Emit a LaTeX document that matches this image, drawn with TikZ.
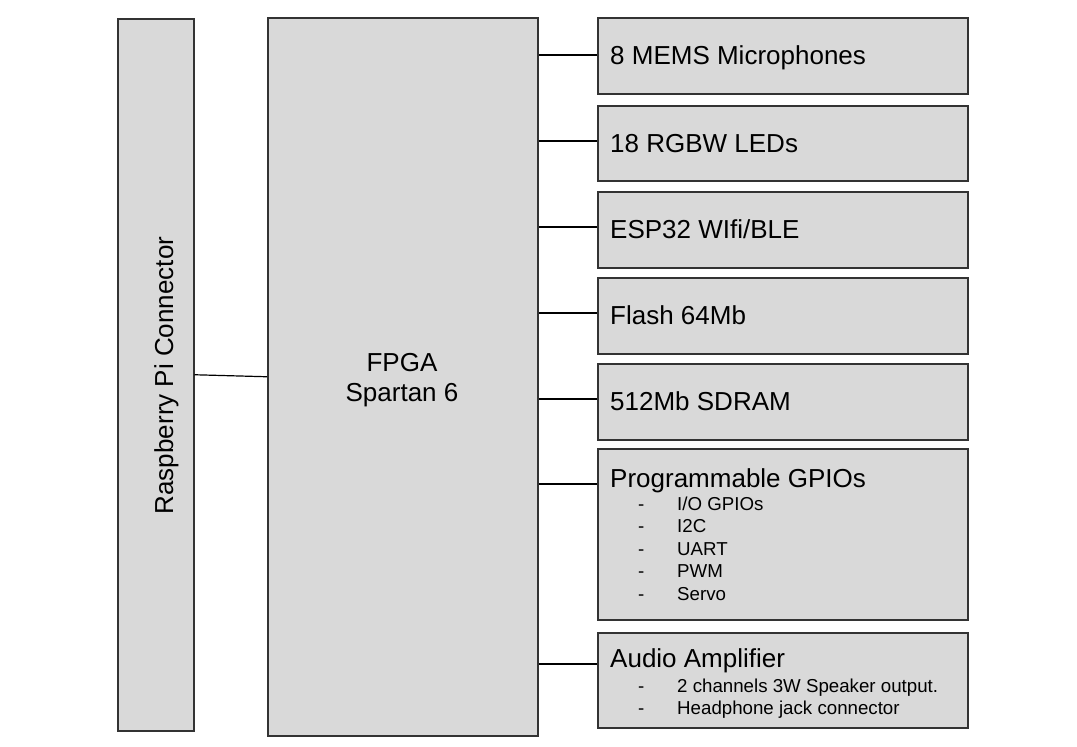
\documentclass[tikz,border=0pt]{standalone}
\usepackage{fontspec}
\setmainfont{Liberation Sans}
\definecolor{grisbloc}{HTML}{D9D9D9}

\begin{document}
\begin{tikzpicture}[x=1pt, y=-1pt]
	\tikzset{bloc/.style={draw=black!80, fill=grisbloc, line width=1.5pt, inner sep=0pt, anchor=north west},
	titre/.style={font=\fontsize{26}{30}\selectfont, inner sep=0pt},
	puce/.style={font=\fontsize{18.7}{22}\selectfont, anchor=base west, inner sep=0pt},
	lien/.style={line width=1.2pt}};
	\useasboundingbox (0,0) rectangle (1077,747);

	\node[bloc, minimum width=76pt, minimum height=712pt] (rpi) at (117,18) {};
	\node[titre, rotate=90, anchor=base] (rpi-t) at (173,375.5) {Raspberry Pi Connector};
	\node[bloc, minimum width=270pt, minimum height=718pt] (fpga) at (267,17) {};
	\node[titre, align=center] (fpga-t) at (402,380) {FPGA\\Spartan 6};

	\foreach \name/\y/\h/\base/\texte in {micro/17/76/64/8 MEMS Microphones, led/105/75/152/18 RGBW LEDs,
		esp/191/76/238/{ESP32 WIfi/BLE}, flash/277/76/324/Flash 64Mb, sdram/363/76/410/512Mb SDRAM,
		gpio/448/171/487/Programmable GPIOs, audio/632/95/667/Audio Amplifier}{
		\node[bloc, minimum width=370pt, minimum height=\h pt] (\name) at (597,\y) {};
		\node[titre, anchor=base west] (\name-t) at (610,\base) {\texte};
	}

	\foreach \ligne [count=\i from 0] in {{I/O GPIOs}, I2C, UART, PWM, Servo}{
		\node[puce] (gpio-d\i) at (638,{510+22.5*\i}) {-};
		\node[puce] (gpio-i\i) at (677,{510+22.5*\i}) {\ligne};
	}
	\foreach \ligne [count=\i from 0] in {2 channels 3W Speaker output., Headphone jack connector}{
		\node[puce] (audio-d\i) at (638,{692+22.7*\i}) {-};
		\node[puce] (audio-i\i) at (677,{692+22.7*\i}) {\ligne};
	}

	\draw[lien] (rpi.east) -- (fpga.west);
	\foreach \name/\dy in {micro/38, led/36, esp/36, flash/36, sdram/36, gpio/36, audio/32}{
		\draw[lien] ([yshift=-\dy pt]\name.north west) -- ([yshift=-\dy pt]\name.north west -| fpga.east);
	}

\end{tikzpicture}
\end{document}
